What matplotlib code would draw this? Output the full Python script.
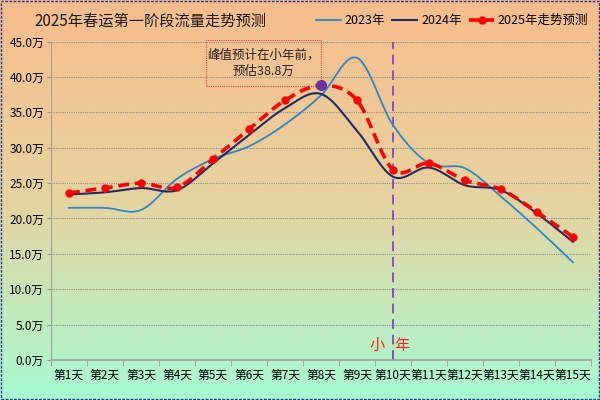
import numpy as np
import matplotlib
matplotlib.use("Agg")
import matplotlib.pyplot as plt
from matplotlib.lines import Line2D
from matplotlib.patches import Rectangle
from matplotlib.colors import LinearSegmentedColormap

plt.rcParams['font.family'] = ['Noto Sans CJK SC', 'DejaVu Sans']

days = [f"第{i}天" for i in range(1, 16)]
y2023 = [21.5, 21.5, 21.2, 25.6, 28.4, 30.2, 33.3, 37.4, 42.7, 33.2, 27.8, 27.1, 23.1, 18.6, 13.8]
y2024 = [23.4, 23.7, 24.3, 24.0, 27.8, 31.8, 35.6, 37.6, 32.4, 25.9, 27.2, 24.7, 24.0, 20.7, 16.7]
y2025 = [23.6, 24.3, 25.0, 24.4, 28.4, 32.6, 36.7, 38.8, 36.7, 26.9, 27.8, 25.4, 24.1, 20.9, 17.4]
yticks = [0, 5, 10, 15, 20, 25, 30, 35, 40, 45]
peak_idx = 7
xiaonian_idx = 9


def smooth(vals, n=30):
    p = np.asarray(vals, float)
    x = np.arange(len(p), dtype=float)
    xs, ys = [], []
    for i in range(len(p) - 1):
        p0 = p[i - 1] if i > 0 else p[i]
        p3 = p[i + 2] if i + 2 < len(p) else p[i + 1]
        x0 = x[i - 1] if i > 0 else x[i]
        x3 = x[i + 2] if i + 2 < len(p) else x[i + 1]
        c1y = p[i] + (p[i + 1] - p0) / 6
        c2y = p[i + 1] - (p3 - p[i]) / 6
        c1x = x[i] + (x[i + 1] - x0) / 6
        c2x = x[i + 1] - (x3 - x[i]) / 6
        t = np.linspace(0, 1, n, endpoint=(i == len(p) - 2))
        b0 = (1 - t) ** 3; b1 = 3 * (1 - t) ** 2 * t; b2 = 3 * (1 - t) * t ** 2; b3 = t ** 3
        xs.append(b0 * x[i] + b1 * c1x + b2 * c2x + b3 * x[i + 1])
        ys.append(b0 * p[i] + b1 * c1y + b2 * c2y + b3 * p[i + 1])
    return np.concatenate(xs), np.concatenate(ys)


fig = plt.figure(figsize=(6, 4), dpi=100)

# gradient background
bg = fig.add_axes([0, 0, 1, 1], zorder=-10)
cmap = LinearSegmentedColormap.from_list("bg", ["#F9BD8C", "#E6D39F", "#A8FBD2"])
grad = np.linspace(0, 1, 256).reshape(-1, 1)
bg.imshow(grad, aspect='auto', cmap=cmap, extent=[0, 1, 0, 1], origin='upper')
bg.axis('off')

ax = fig.add_axes([0.085, 0.1, 0.9, 0.796])
ax.set_facecolor('none')

c23, c24, c25 = '#2E86C8', '#1F2D66', '#FF0000'
x = np.arange(len(days))

sx, sy = smooth(y2023)
ax.plot(sx, sy, color=c23, lw=1.3, zorder=3)
sx, sy = smooth(y2024)
ax.plot(sx, sy, color=c24, lw=1.5, zorder=3)
sx, sy = smooth(y2025)
ax.plot(sx, sy, color=c25, lw=2.6, ls=(0, (3, 1.6)), zorder=4)
ax.plot(x, y2025, ls='none', marker='o', ms=5, color=c25, zorder=5)
ax.plot([peak_idx], [y2025[peak_idx]], ls='none', marker='o', ms=7, color='#7030A0', zorder=6)

ax.axvline(xiaonian_idx, color='#8E4CC8', lw=1.4, ls=(0, (5, 3)), zorder=2)
ax.text(xiaonian_idx - 0.45, 2.1, "小", color='#FF2020', fontsize=11, ha='center', va='center')
ax.text(xiaonian_idx + 0.25, 2.1, "年", color='#FF2020', fontsize=11, ha='center', va='center')

# annotation box
ax.add_patch(Rectangle((3.8, 38.7), 3.2, 6.5, fill=False, ec='#E84040', lw=0.8,
                       ls=(0, (1, 1)), clip_on=False, zorder=4))
ax.text(5.4, 41.95, "峰值预计在小年前，\n预估38.8万", ha='center', va='center',
        fontsize=9, linespacing=1.35, color='#222222', zorder=5)

ax.set_xlim(-0.5, 14.5)
ax.set_ylim(0, 45)
ax.set_yticks(yticks)
ax.set_yticklabels([f"{v:.1f}万" for v in yticks], fontsize=8.5)
ax.set_xticks(x)
ax.set_xticklabels(days, fontsize=8.5)
ax.set_xticks(np.arange(-0.5, 15, 1), minor=True)
ax.tick_params(axis='x', which='major', length=0, pad=6)
ax.tick_params(axis='x', which='minor', length=4, color='#999999')
ax.tick_params(axis='y', length=3, color='#999999', pad=2)
ax.grid(axis='y', color='#8C8C8C', ls=(0, (1, 1)), lw=0.8)
for s in ['top', 'right']:
    ax.spines[s].set_visible(False)
ax.spines['bottom'].set_color('#A0A0A0')
ax.spines['bottom'].set_linewidth(1.2)
ax.spines['left'].set_color('#A0A0A0')
ax.spines['left'].set_linestyle((0, (1, 1)))

fig.text(0.058, 0.948, "2025年春运第一阶段流量走势预测", fontsize=11, ha='left', va='center', color='#1A1A1A')

handles = [Line2D([], [], color=c23, lw=1.3),
           Line2D([], [], color=c24, lw=1.5),
           Line2D([], [], color=c25, lw=2.6, ls=(0, (3, 1.6)), marker='o', ms=5)]
fig.legend(handles, ["2023年", "2024年", "2025年走势预测"], loc='center right',
           bbox_to_anchor=(0.993, 0.948), ncol=3, frameon=False, fontsize=9,
           handlelength=2.0, columnspacing=0.6, handletextpad=0.3, borderpad=0.1)

fig.patches.append(Rectangle((0.002, 0.003), 0.996, 0.994, transform=fig.transFigure,
                             fill=False, ec='#1F3A93', lw=1, ls=(0, (2, 1))))

fig.savefig("out.png", dpi=100)
